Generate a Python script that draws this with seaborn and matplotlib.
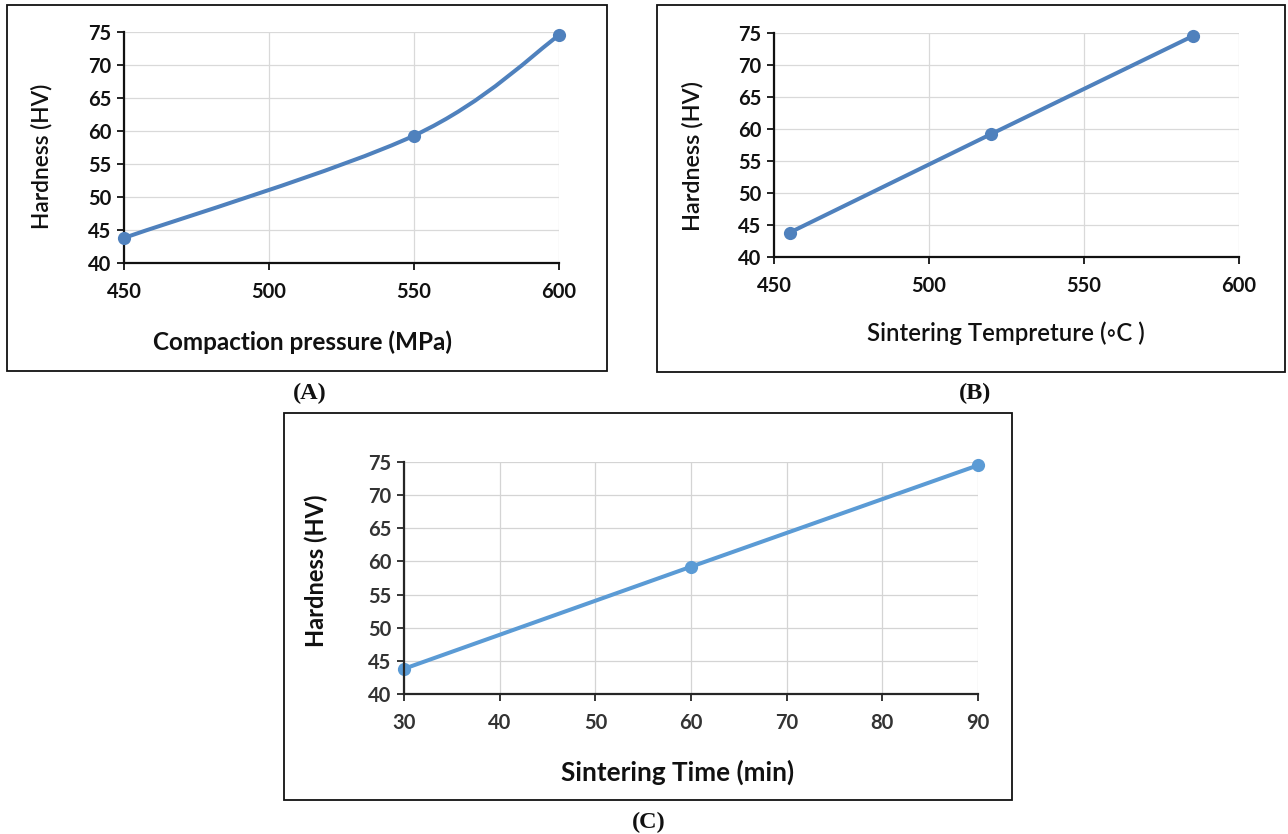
import numpy as np
import pandas as pd
import matplotlib
matplotlib.use("Agg")
import matplotlib.pyplot as plt
from matplotlib.path import Path
from matplotlib.patches import PathPatch, Rectangle
import seaborn as sns

# Hardness measurements for the three processing parameters
pressure_mpa = [450, 550, 600]
hardness_pressure = [43.8, 59.3, 74.5]

temperature_c = [455, 520, 585]
hardness_temperature = [43.8, 59.2, 74.5]

time_min = [30, 60, 90]
hardness_time = [43.8, 59.2, 74.5]

y_ticks = [40, 45, 50, 55, 60, 65, 70, 75]
x_ticks_pressure = [450, 500, 550, 600]
x_ticks_temperature = [450, 500, 550, 600]
x_ticks_time = [30, 40, 50, 60, 70, 80, 90]

sns.set_theme(style="white")
plt.rcParams["font.family"] = ["Lato", "DejaVu Sans"]

BLUE_DARK = "#4F81BD"
BLUE_LIGHT = "#5B9BD5"


def smooth_path(xs, ys):
    """Cubic Bezier path through the points (Catmull-Rom style tangents)."""
    pts = np.column_stack([xs, ys]).astype(float)
    n = len(pts)
    verts = [pts[0]]
    codes = [Path.MOVETO]
    for i in range(n - 1):
        p_prev = pts[max(i - 1, 0)]
        p0, p1 = pts[i], pts[i + 1]
        p_next = pts[min(i + 2, n - 1)]
        verts += [p0 + (p1 - p_prev) / 6.0, p1 - (p_next - p0) / 6.0, p1]
        codes += [Path.CURVE4] * 3
    return Path(verts, codes)


def style_axes(ax, xticks, spine_color, label_color, grid_color, tick_size):
    ax.set_xlim(xticks[0], xticks[-1])
    ax.set_ylim(40, 75)
    ax.set_xticks(xticks)
    ax.set_yticks(y_ticks)
    ax.set_axisbelow(True)
    ax.grid(True, color=grid_color, linewidth=0.9)
    for s in ["top", "right"]:
        ax.spines[s].set_visible(False)
    for s in ["left", "bottom"]:
        ax.spines[s].set_color(spine_color)
        ax.spines[s].set_linewidth(1.6)
    ax.tick_params(axis="both", direction="out", length=5, width=1.3,
                   color=spine_color, labelcolor=label_color,
                   bottom=True, left=True)
    ax.tick_params(axis="x", pad=9)
    ax.tick_params(axis="y", pad=4)
    for lab in ax.get_xticklabels() + ax.get_yticklabels():
        lab.set_fontweight("bold")
        lab.set_fontsize(tick_size)


def unclip(ax):
    for art in ax.lines + ax.collections + ax.patches:
        art.set_clip_on(False)


fig = plt.figure(figsize=(12.88, 8.34), dpi=100)
W, H = 1288.0, 834.0


def frac_box(x0, y0, x1, y1):
    return [x0 / W, 1 - y1 / H, (x1 - x0) / W, (y1 - y0) / H]


# Panel frames
for (x0, y0, x1, y1) in [(7, 5, 607, 371), (657, 5, 1285, 372), (284, 413, 1012, 800)]:
    fig.patches.append(Rectangle((x0 / W, 1 - y1 / H), (x1 - x0) / W, (y1 - y0) / H,
                                 transform=fig.transFigure, fill=False,
                                 edgecolor="#111111", linewidth=1.3))

# (A) compaction pressure, smoothed curve
ax_a = fig.add_axes(frac_box(124, 32, 559, 263))
df_a = pd.DataFrame({"x": pressure_mpa, "y": hardness_pressure})
ax_a.add_patch(PathPatch(smooth_path(df_a["x"], df_a["y"]), facecolor="none",
                         edgecolor=BLUE_DARK, linewidth=2.9, capstyle="round"))
sns.scatterplot(data=df_a, x="x", y="y", ax=ax_a, color=BLUE_DARK, s=90,
                edgecolor=BLUE_DARK, linewidth=0, zorder=3)
style_axes(ax_a, x_ticks_pressure, "#111111", "#111111", "#d9d9d9", 14.5)
ax_a.set_xlabel("Compaction pressure (MPa)", fontsize=17.5, fontweight="bold", color="#111111")
ax_a.set_ylabel("Hardness (HV)", fontsize=16.3, fontweight="semibold", color="#111111")
ax_a.xaxis.set_label_coords(0.411, -0.342)
ax_a.xaxis.label.set_va("center")
ax_a.yaxis.set_label_coords(-0.189, 0.463)
ax_a.yaxis.label.set_va("center")
unclip(ax_a)

# (B) sintering temperature
ax_b = fig.add_axes(frac_box(774, 33, 1239, 257))
df_b = pd.DataFrame({"x": temperature_c, "y": hardness_temperature})
sns.lineplot(data=df_b, x="x", y="y", ax=ax_b, color=BLUE_DARK, linewidth=2.9,
             marker="o", markersize=9.5, markeredgewidth=0)
style_axes(ax_b, x_ticks_temperature, "#111111", "#111111", "#d9d9d9", 14.5)
ax_b.set_xlabel("Sintering Tempreture (\u25e6C )", fontsize=17.2, fontweight="semibold",
                color="#111111")
ax_b.set_ylabel("Hardness (HV)", fontsize=16.8, fontweight="semibold", color="#111111")
ax_b.xaxis.set_label_coords(0.499, -0.34)
ax_b.xaxis.label.set_va("center")
ax_b.yaxis.set_label_coords(-0.174, 0.451)
ax_b.yaxis.label.set_va("center")
unclip(ax_b)

# (C) sintering time
ax_c = fig.add_axes(frac_box(404, 462, 978, 694))
df_c = pd.DataFrame({"x": time_min, "y": hardness_time})
sns.lineplot(data=df_c, x="x", y="y", ax=ax_c, color=BLUE_LIGHT, linewidth=2.9,
             marker="o", markersize=9.5, markeredgewidth=0)
style_axes(ax_c, x_ticks_time, "#262626", "#333333", "#d4d4d4", 14.5)
ax_c.set_xlabel("Sintering Time (min)", fontsize=18.8, fontweight="bold", color="#111111")
ax_c.set_ylabel("Hardness (HV)", fontsize=17, fontweight="bold", color="#111111")
ax_c.xaxis.set_label_coords(0.477, -0.336)
ax_c.xaxis.label.set_va("center")
ax_c.yaxis.set_label_coords(-0.152, 0.53)
ax_c.yaxis.label.set_va("center")
unclip(ax_c)

# Panel captions
for txt, x, y in [("(A)", 310, 393), ("(B)", 975, 393), ("(C)", 649, 822)]:
    fig.text(x / W, 1 - y / H, txt, ha="center", va="center",
             family="Liberation Serif", fontweight="bold", fontsize=17.5, color="#111111")

fig.savefig("out.png", dpi=100)
